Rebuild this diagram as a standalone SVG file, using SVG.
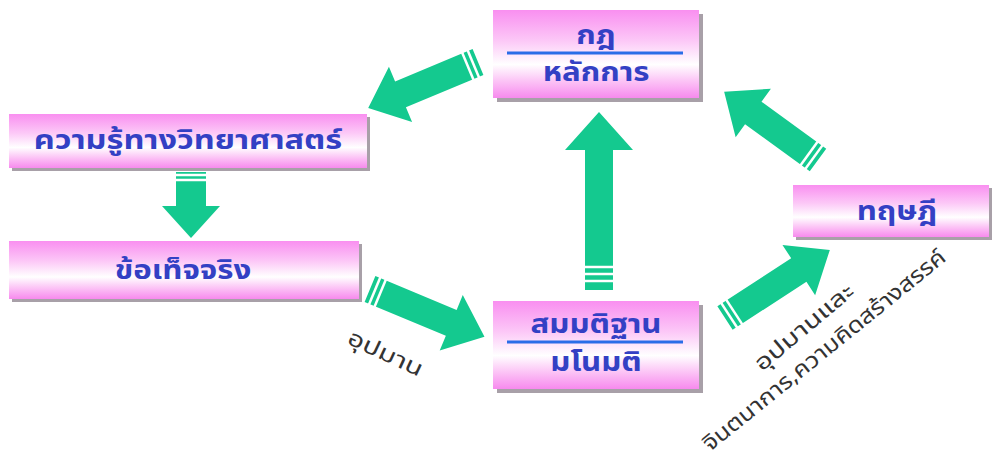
<svg xmlns="http://www.w3.org/2000/svg" width="997" height="463" viewBox="0 0 997 463">
<defs>
<linearGradient id="pk" x1="0" y1="0" x2="0" y2="1">
<stop offset="0" stop-color="#f98ff0"/>
<stop offset="0.35" stop-color="#fcc8f7"/>
<stop offset="0.62" stop-color="#ffffff"/>
<stop offset="0.8" stop-color="#fcc6f6"/>
<stop offset="1" stop-color="#f78aee"/>
</linearGradient>
</defs>
<style>
.box{fill:url(#pk);}
.sh{fill:#a8a0a8;}
.t{font-family:"Noto Sans Thai","Noto Sans","DejaVu Sans",sans-serif;font-weight:bold;fill:#3340c4;text-anchor:middle;font-size:26px;}
.lbl{font-family:"Noto Sans Thai","Noto Sans","DejaVu Sans",sans-serif;fill:#333;font-size:22px;}
.sep{stroke:#2a6de8;stroke-width:3;}
.arr{fill:#14c98f;}
.st{stroke:#fff;stroke-width:2.5;}
</style>
<g id="connectors">
<g transform="translate(478,62) rotate(157.3)">
<path class="arr" d="M0,-14 L84,-14 L84,-30 L119,0 L84,30 L84,14 L0,14 Z"/>
<line class="st" x1="5" y1="-16" x2="5" y2="16"/><line class="st" x1="11" y1="-16" x2="11" y2="16"/>
</g>
<g transform="translate(191,172) rotate(90)">
<path class="arr" d="M0,-15 L34,-15 L34,-29 L66,0 L34,29 L34,15 L0,15 Z"/>
<line class="st" x1="3" y1="-17" x2="3" y2="17"/><line class="st" x1="8" y1="-17" x2="8" y2="17"/>
</g>
<g transform="translate(370,289) rotate(22.6)">
<path class="arr" d="M0,-14 L88,-14 L88,-30 L124,0 L88,30 L88,14 L0,14 Z"/>
<line class="st" x1="5" y1="-16" x2="5" y2="16"/><line class="st" x1="11" y1="-16" x2="11" y2="16"/>
</g>
<g transform="translate(599,290) rotate(-90)">
<path class="arr" d="M0,-14 L140,-14 L140,-34 L178,0 L140,34 L140,14 L0,14 Z"/>
<line class="st" x1="9" y1="-16" x2="9" y2="16"/><line class="st" x1="16" y1="-16" x2="16" y2="16"/><line class="st" x1="23" y1="-16" x2="23" y2="16"/>
</g>
<g transform="translate(818,160) rotate(-144)">
<path class="arr" d="M0,-14 L80,-14 L80,-30 L116,0 L80,30 L80,14 L0,14 Z"/>
<line class="st" x1="5" y1="-16" x2="5" y2="16"/><line class="st" x1="11" y1="-16" x2="11" y2="16"/>
</g>
<g transform="translate(725,318) rotate(-33)">
<path class="arr" d="M0,-14 L88,-14 L88,-30 L125,0 L88,30 L88,14 L0,14 Z"/>
<line class="st" x1="5" y1="-16" x2="5" y2="16"/><line class="st" x1="11" y1="-16" x2="11" y2="16"/>
</g>
<text class="lbl" transform="translate(346,343) rotate(25) scale(1.3,1)">อุปมาน</text>
<text class="lbl" transform="translate(762,372) rotate(-40) scale(1.3,1)">อุปมานและ</text>
<text class="lbl" transform="translate(710,452) rotate(-39) scale(1.15,1)">จินตนาการ,ความคิดสร้างสรรค์</text>
</g>
<g id="n-law">
<rect class="sh" x="497" y="14" width="206" height="88"/>
<rect class="box" x="493" y="10" width="206" height="88"/>
<line class="sep" x1="507" y1="53" x2="683" y2="53"/>
<text class="t" transform="translate(596,44) scale(1.2,1)">กฎ</text>
<text class="t" transform="translate(596,81) scale(1.2,1)">หลักการ</text>
</g>
<g id="n-knowledge">
<rect class="sh" x="12" y="117" width="358" height="54"/>
<rect class="box" x="9" y="114" width="358" height="54"/>
<text class="t" transform="translate(188,149) scale(1.25,1)">ความรู้ทางวิทยาศาสตร์</text>
</g>
<g id="n-fact">
<rect class="sh" x="12" y="244" width="350" height="58"/>
<rect class="box" x="9" y="241" width="350" height="58"/>
<text class="t" transform="translate(183,279) scale(1.2,1)">ข้อเท็จจริง</text>
</g>
<g id="n-hypothesis">
<rect class="sh" x="497" y="305" width="206" height="88"/>
<rect class="box" x="493" y="301" width="206" height="88"/>
<line class="sep" x1="507" y1="342" x2="683" y2="342"/>
<text class="t" transform="translate(596,333) scale(1.2,1)">สมมติฐาน</text>
<text class="t" transform="translate(596,371) scale(1.2,1)">มโนมติ</text>
</g>
<g id="n-theory">
<rect class="sh" x="796" y="188" width="196" height="52"/>
<rect class="box" x="793" y="185" width="196" height="52"/>
<text class="t" transform="translate(897,220) scale(1.2,1)">ทฤษฎี</text>
</g>
</svg>
